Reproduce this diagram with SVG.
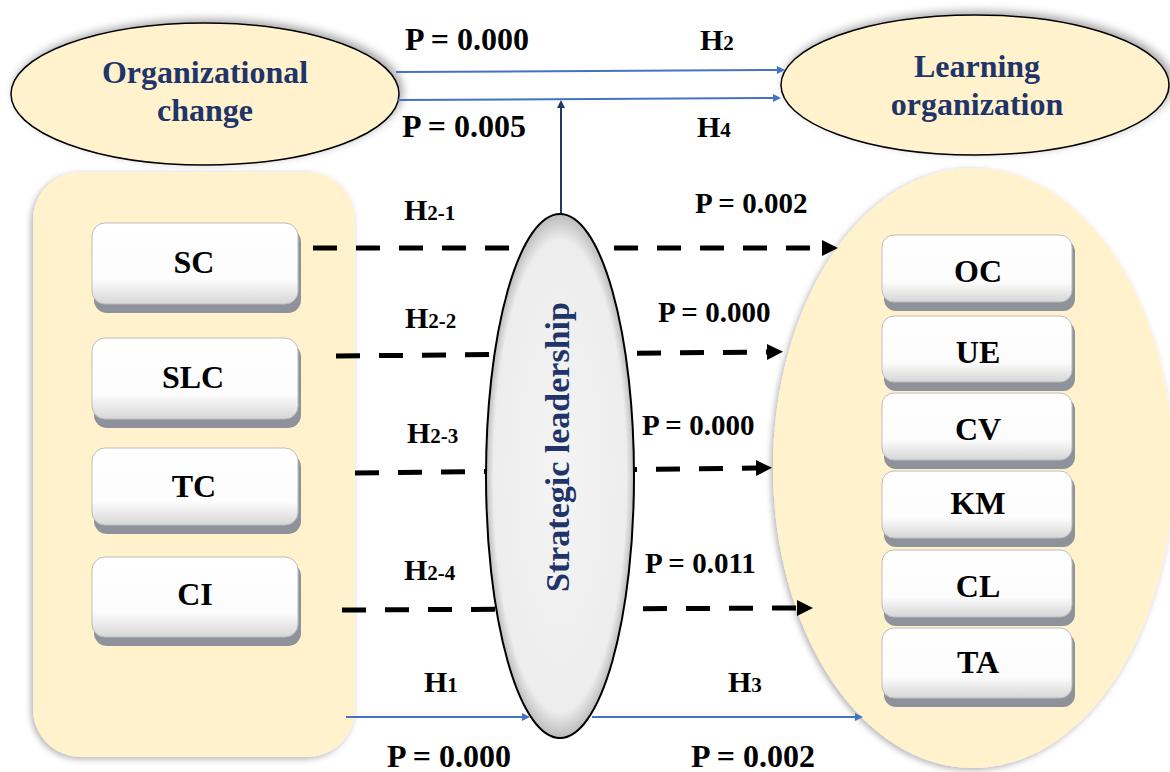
<svg xmlns="http://www.w3.org/2000/svg" width="1170" height="772" viewBox="0 0 1170 772">
<style>
.lbl{font-family:"Liberation Serif","Times New Roman",serif;font-weight:bold;fill:#000}
.p32{font-size:32px}
.p29{font-size:29px}
.h{font-size:30px}
.sub{font-size:21px}
.nav{font-family:"Liberation Serif","Times New Roman",serif;font-weight:bold;fill:#1f3468;font-size:32px;text-anchor:middle}
.box{font-family:"Liberation Serif","Times New Roman",serif;font-weight:bold;fill:#000;font-size:32px;text-anchor:middle}
.face{fill:url(#boxg);stroke:#bdbdbd;stroke-width:1}
.shd{fill:#8e939b}
.dash{stroke:#000;stroke-width:5;stroke-dasharray:24 19;fill:none}
.blue{stroke:#4472c4;stroke-width:2;fill:none}
.cream{fill:#fff2cc}
</style>
<defs>
<linearGradient id="boxg" x1="0" y1="0" x2="0" y2="1">
<stop offset="0" stop-color="#ffffff"/>
<stop offset="0.7" stop-color="#fcfcfc"/>
<stop offset="1" stop-color="#d6d6d6"/>
</linearGradient>
<radialGradient id="slg" cx="0.5" cy="0.5" r="0.5">
<stop offset="0" stop-color="#f4f4f4"/>
<stop offset="0.9" stop-color="#ededed"/>
<stop offset="1" stop-color="#bcbcbc"/>
</radialGradient>
<filter id="sh" x="-10%" y="-10%" width="120%" height="120%">
<feDropShadow dx="-2" dy="2" stdDeviation="3" flood-color="#000" flood-opacity="0.3"/>
</filter>
<filter id="sh2" x="-10%" y="-20%" width="120%" height="140%">
<feDropShadow dx="3" dy="-3" stdDeviation="4" flood-color="#000" flood-opacity="0.35"/>
</filter>
<marker id="ab" markerUnits="userSpaceOnUse" markerWidth="16" markerHeight="16" refX="0" refY="8" orient="auto">
<path d="M0,0 L16,8 L0,16 z" fill="#000"/>
</marker>
<marker id="abl" markerUnits="userSpaceOnUse" markerWidth="8" markerHeight="8" refX="0" refY="4" orient="auto">
<path d="M0,0 L8,4 L0,8 z" fill="#4472c4"/>
</marker>
<marker id="abn" markerUnits="userSpaceOnUse" markerWidth="8" markerHeight="8" refX="0" refY="4" orient="auto">
<path d="M0,0 L8,4 L0,8 z" fill="#1f3864"/>
</marker>
</defs>
<rect width="1170" height="772" fill="#fff"/>

<g id="panel-left">
<rect x="33" y="172" width="322" height="585" rx="48" class="cream" filter="url(#sh)"/>
</g>
<g id="panel-right">
<ellipse cx="973" cy="468" rx="200" ry="300" class="cream" filter="url(#sh)"/>
</g>

<g id="org-change">
<ellipse cx="205" cy="94" rx="194" ry="71" fill="#fff2cc" stroke="#000" stroke-width="1.5" filter="url(#sh2)"/>
<text class="nav" x="205" y="83">Organizational</text>
<text class="nav" x="205" y="121">change</text>
</g>
<g id="learning-org">
<ellipse cx="975" cy="85" rx="194" ry="70" fill="#fff2cc" stroke="#000" stroke-width="1.5" filter="url(#sh2)"/>
<text class="nav" x="977" y="77">Learning</text>
<text class="nav" x="977" y="115">organization</text>
</g>

<g id="connectors">
<line class="blue" x1="396" y1="72" x2="777" y2="70" marker-end="url(#abl)"/>
<line class="blue" x1="398" y1="100" x2="773" y2="98" marker-end="url(#abl)"/>
<line x1="561" y1="214" x2="561" y2="108" stroke="#1f3864" stroke-width="2" marker-end="url(#abn)"/>
<line class="dash" x1="313" y1="248" x2="822" y2="248" marker-end="url(#ab)"/>
<line class="dash" x1="336" y1="356" x2="767" y2="352" marker-end="url(#ab)"/>
<line class="dash" x1="355" y1="473" x2="756" y2="468" marker-end="url(#ab)"/>
<line class="dash" x1="342" y1="610" x2="797" y2="608" marker-end="url(#ab)"/>
<line class="blue" x1="346" y1="717" x2="522" y2="717" marker-end="url(#abl)"/>
<line class="blue" x1="592" y1="717" x2="855" y2="717" marker-end="url(#abl)"/>
</g>

<g id="strategic-leadership">
<ellipse cx="560" cy="476" rx="74" ry="262" fill="url(#slg)" stroke="#000" stroke-width="2"/>
<text class="nav" style="font-size:34px" transform="translate(569,447) rotate(-90)" x="0" y="0">Strategic leadership</text>
</g>

<g id="box-SC">
<rect x="94" y="229" width="207" height="84" rx="13" class="shd"/>
<rect x="92" y="223" width="206" height="81" rx="13" class="face"/>
<text class="box" x="194" y="273">SC</text>
</g>
<g id="box-SLC">
<rect x="94" y="344" width="207" height="84" rx="13" class="shd"/>
<rect x="92" y="338" width="206" height="81" rx="13" class="face"/>
<text class="box" x="193" y="388">SLC</text>
</g>
<g id="box-TC">
<rect x="94" y="454" width="207" height="80" rx="13" class="shd"/>
<rect x="92" y="448" width="206" height="77" rx="13" class="face"/>
<text class="box" x="194" y="497">TC</text>
</g>
<g id="box-CI">
<rect x="94" y="563" width="207" height="83" rx="13" class="shd"/>
<rect x="92" y="557" width="206" height="80" rx="13" class="face"/>
<text class="box" x="195" y="605">CI</text>
</g>

<g id="box-OC">
<rect x="884" y="240" width="191" height="71" rx="12" class="shd"/>
<rect x="882" y="235" width="190" height="67" rx="12" class="face"/>
<text class="box" x="978" y="282">OC</text>
</g>
<g id="box-UE">
<rect x="884" y="321" width="191" height="70" rx="12" class="shd"/>
<rect x="882" y="316" width="190" height="66" rx="12" class="face"/>
<text class="box" x="978" y="363">UE</text>
</g>
<g id="box-CV">
<rect x="884" y="398" width="191" height="71" rx="12" class="shd"/>
<rect x="882" y="393" width="190" height="67" rx="12" class="face"/>
<text class="box" x="978" y="440">CV</text>
</g>
<g id="box-KM">
<rect x="884" y="476" width="191" height="71" rx="12" class="shd"/>
<rect x="882" y="471" width="190" height="67" rx="12" class="face"/>
<text class="box" x="978" y="514">KM</text>
</g>
<g id="box-CL">
<rect x="884" y="555" width="191" height="71" rx="12" class="shd"/>
<rect x="882" y="550" width="190" height="67" rx="12" class="face"/>
<text class="box" x="978" y="597">CL</text>
</g>
<g id="box-TA">
<rect x="884" y="633" width="191" height="74" rx="12" class="shd"/>
<rect x="882" y="628" width="190" height="70" rx="12" class="face"/>
<text class="box" x="978" y="673">TA</text>
</g>

<g id="labels">
<text class="lbl p32" x="405" y="50">P = 0.000</text>
<text class="lbl h" x="700" y="50">H<tspan class="sub">2</tspan></text>
<text class="lbl p32" x="402" y="137">P = 0.005</text>
<text class="lbl h" x="697" y="137">H<tspan class="sub">4</tspan></text>
<text class="lbl h" x="404" y="220">H<tspan class="sub">2-1</tspan></text>
<text class="lbl p29" x="695" y="213">P = 0.002</text>
<text class="lbl h" x="405" y="328">H<tspan class="sub">2-2</tspan></text>
<text class="lbl p29" x="658" y="322">P = 0.000</text>
<text class="lbl h" x="407" y="443">H<tspan class="sub">2-3</tspan></text>
<text class="lbl p29" x="642" y="435">P = 0.000</text>
<text class="lbl h" x="404" y="580">H<tspan class="sub">2-4</tspan></text>
<text class="lbl p29" x="645" y="573">P = 0.011</text>
<text class="lbl h" x="424" y="692">H<tspan class="sub">1</tspan></text>
<text class="lbl h" x="728" y="692">H<tspan class="sub">3</tspan></text>
<text class="lbl p32" x="387" y="767">P = 0.000</text>
<text class="lbl p32" x="691" y="767">P = 0.002</text>
</g>
</svg>
